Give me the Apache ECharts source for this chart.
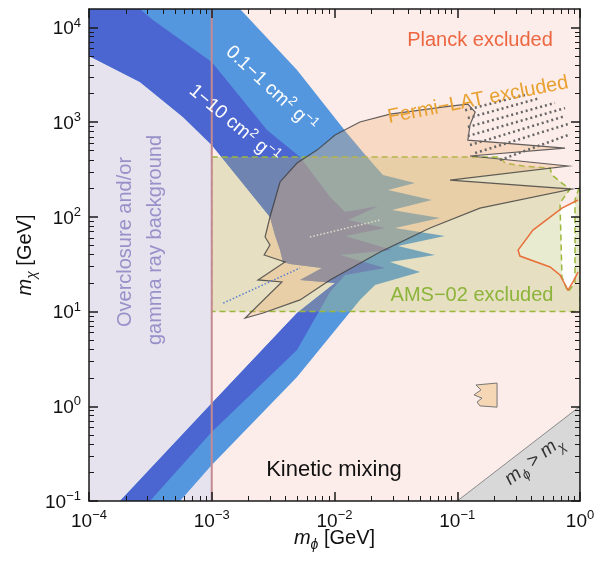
<!DOCTYPE html>
<html>
<head>
<meta charset="utf-8">
<script src="https://cdn.jsdelivr.net/npm/echarts@6/dist/echarts.min.js"></script>
<style>
  html, body { margin: 0; padding: 0; background: #fff; }
  #chart { width: 597px; height: 562px; }
</style>
</head>
<body>
<div id="chart"></div>
<script>
// axis ranges and tick values (m_phi, m_chi in GeV)
const xRange = [1e-4, 1];
const yRange = [0.1, 15700];
const xMajor = [1e-4, 1e-3, 1e-2, 1e-1, 1];
const yMajor = [0.1, 1, 10, 100, 1000, 10000];

// overclosure / gamma ray background: m_phi below 1 MeV
const overclosure = [[1e-4, 0.1], [1e-3, 0.1], [1e-3, 15700], [1e-4, 15700]];
const mevLine = [[1e-3, 0.1], [1e-3, 15700]];

// m_phi > m_chi
const heavyMediator = [[0.1, 0.1], [1, 1], [1, 0.1]];

// 0.1-1 cm^2/g band (outer envelope)
const band01 = [
  [1e-4, 15700], [1.70e-3, 15700], [4.95e-3, 3560], [1.26e-2, 769], [1.84e-2, 429],
  [2.48e-2, 277], [4.53e-2, 228], [2.73e-2, 192], [6.22e-2, 151], [2.94e-2, 118],
  [7.23e-2, 97.3], [3.11e-2, 76.4], [7.94e-2, 62.8], [3.29e-2, 49.3], [6.59e-2, 39.6],
  [2.83e-2, 33.4], [4.98e-2, 26.2], [2.14e-2, 19.1], [1.61e-2, 13.3], [1.34e-2, 9.9],
  [4.95e-3, 2.04], [1e-3, 0.240], [5.51e-4, 0.1], [1.79e-4, 0.1],
  [1e-3, 1.08], [4.95e-3, 9.67], [1.01e-2, 20.1], [5.24e-3, 21.6], [7.91e-3, 28.9],
  [4.34e-3, 31.8], [3.80e-3, 33.4], [3.60e-3, 44.7], [3.27e-3, 64.4], [2.98e-3, 99.8],
  [1.70e-3, 245], [1e-3, 574], [5.83e-4, 1135], [2.60e-4, 2660], [1e-4, 5000]
];

// 1-10 cm^2/g band
const band1 = [
  [1e-4, 15700], [2.60e-4, 15700], [3.32e-4, 12000], [1e-3, 4320], [2.82e-3, 827],
  [5.24e-3, 429], [9.19e-3, 162], [1.22e-2, 113], [2.26e-2, 130], [1.29e-2, 92.7],
  [2.58e-2, 76.4], [1.22e-2, 62.8], [2.94e-2, 44.7], [1.11e-2, 39.6], [2.58e-2, 28.9],
  [1.22e-2, 24.4], [9.19e-3, 16.1], [4.95e-3, 3.93], [1e-3, 0.536], [3.14e-4, 0.1],
  [1.79e-4, 0.1],
  [1e-3, 1.08], [4.95e-3, 9.67], [1.01e-2, 20.1], [5.24e-3, 21.6], [7.91e-3, 28.9],
  [4.34e-3, 31.8], [3.80e-3, 33.4], [3.60e-3, 44.7], [3.27e-3, 64.4], [2.98e-3, 99.8],
  [1.70e-3, 245], [1e-3, 574], [5.83e-4, 1135], [2.60e-4, 2660], [1e-4, 5000]
];

// AMS-02 excluded
const ams = [
  [1e-3, 429], [0.223, 429], [0.245, 371], [0.343, 345], [0.570, 328], [0.592, 277],
  [0.713, 228], [0.829, 197], [0.687, 140], [0.700, 57.0], [0.713, 23.2], [0.798, 16.1],
  [0.910, 20.1], [0.910, 57.0], [0.910, 151], [1, 217], [1, 10], [1e-3, 10]
];

// Fermi-LAT excluded
const fermi = [
  [7.20e-3, 508], [1.01e-2, 732], [1.61e-2, 1005], [2.83e-2, 1220], [4.98e-2, 1340],
  [8.73e-2, 1480], [0.122, 1556], [0.140, 1280], [0.127, 933], [0.122, 648],
  [0.755, 534], [0.127, 440], [0.798, 345], [8.73e-2, 245], [0.861, 197],
  [0.153, 124], [6.00e-2, 76.4], [2.35e-2, 42.6], [9.19e-3, 21.6], [5.24e-3, 13.3],
  [2.62e-3, 9.67], [1.87e-3, 8.55], [3.73e-3, 20.6], [2.38e-3, 21.6], [3.95e-3, 33.4],
  [2.67e-3, 39.6], [2.98e-3, 50.5], [2.72e-3, 61.4], [2.98e-3, 99.8], [3.60e-3, 234],
  [4.95e-3, 371]
];
const fermiIsland = [
  [0.142, 1.68], [0.211, 1.76], [0.211, 0.98], [0.153, 1.01], [0.145, 1.11],
  [0.159, 1.22], [0.137, 1.32], [0.156, 1.49]
];
// dotted resonance rows at the top of the Fermi region
const fermiRows = [
  [[0.116, 1340], [0.356, 1940]],
  [[0.122, 1107], [0.472, 1800]],
  [[0.122, 890], [0.625, 1600]],
  [[0.122, 715], [0.755, 1410]],
  [[0.127, 574], [0.755, 1160]],
  [[0.140, 473], [0.798, 957]],
  [[0.223, 399], [0.798, 732]]
];
// thin resonance lines inside the bands
const resonanceBlue = [[1.24e-3, 12.3], [5.24e-3, 28.9]];
const resonancePale = [[6.31e-3, 61.4], [2.35e-2, 92.7]];

// Planck allowed pocket
const planckEdge = [
  [1, 151], [0.964, 151], [0.713, 124], [0.414, 72.7], [0.313, 44.7], [0.324, 38.6],
  [0.570, 29.6], [0.687, 24.4], [0.798, 16.9], [0.877, 20.6], [0.964, 26.2], [1, 27.5]
];

const minor = m => m.slice(0, -1).flatMap(v => [2, 3, 4, 5, 6, 7, 8, 9].map(k => v * k));
const FONT = 'Liberation Sans, Arial, Helvetica, sans-serif';
const INK = '#1a1a1a';

function area(pts, style) {
  return {
    type: 'custom', silent: true, clip: true, data: [pts[0]],
    renderItem: function (params, api) {
      return { type: 'polygon', shape: { points: pts.map(p => api.coord(p)) }, style: style };
    }
  };
}
function path(pts, style) {
  return {
    type: 'custom', silent: true, clip: true, data: [pts[0]],
    renderItem: function (params, api) {
      return { type: 'polyline', shape: { points: pts.map(p => api.coord(p)) }, style: Object.assign({ fill: null }, style) };
    }
  };
}

const sup = {
  b: { fontSize: 19, fontFamily: FONT, color: '#111', verticalAlign: 'bottom' },
  s: { fontSize: 13, fontFamily: FONT, color: '#111', verticalAlign: 'bottom', padding: [0, 0, 9, 0] }
};
function powLabel(v) {
  const e = Math.round(Math.log10(v));
  return '{b|10}{s|' + String(e).replace('-', '\u2212') + '}';
}

// log axis that carries the data, the frame line and the labels
function dataAxis(dir, pos) {
  const range = dir === 'x' ? xRange : yRange;
  const vals = dir === 'x' ? xMajor : yMajor;
  return {
    type: 'log', logBase: 10, min: range[0], max: range[1], position: pos, z: 10,
    splitLine: { show: false }, minorTick: { show: false },
    axisLine: { show: true, onZero: false, lineStyle: { color: INK, width: 1.5 } },
    axisTick: { show: false },
    axisLabel: { show: true, customValues: vals, margin: 8, formatter: powLabel, rich: sup }
  };
}
// tick-only axis in log10 units, laid over the same grid
function tickAxis(dir, pos, major, line) {
  const range = (dir === 'x' ? xRange : yRange).map(Math.log10);
  const base = dir === 'x' ? xMajor : yMajor;
  const vals = (major ? base : minor(base)).map(Math.log10);
  return {
    type: 'value', min: range[0], max: range[1], position: pos, z: 10,
    splitLine: { show: false }, minorTick: { show: false },
    axisLine: { show: !!line, onZero: false, lineStyle: { color: INK, width: 1.5 } },
    axisTick: { show: true, inside: true, length: major ? 9 : 5, customValues: vals,
      lineStyle: { color: INK, width: major ? 1.5 : 1 } },
    axisLabel: { show: false }
  };
}

const nameRich = {
  i: { fontSize: 20, fontFamily: FONT, fontStyle: 'italic', color: '#111', verticalAlign: 'bottom', padding: [0, 0, 4, 0] },
  n: { fontSize: 20, fontFamily: FONT, color: '#111', verticalAlign: 'bottom', padding: [0, 0, 4, 0] },
  sub: { fontSize: 14, fontFamily: FONT, fontStyle: 'italic', color: '#111', verticalAlign: 'bottom' }
};

const xAxes = [dataAxis('x', 'bottom'), tickAxis('x', 'bottom', true), tickAxis('x', 'bottom', false),
  tickAxis('x', 'top', true, true), tickAxis('x', 'top', false)];
const yAxes = [dataAxis('y', 'left'), tickAxis('y', 'left', true), tickAxis('y', 'left', false),
  tickAxis('y', 'right', true, true), tickAxis('y', 'right', false)];
Object.assign(xAxes[0], { name: '{i|m}{sub|\u03d5}{n| [GeV]}', nameLocation: 'middle', nameGap: 27,
  nameMoveOverlap: false, nameTextStyle: { rich: nameRich } });
Object.assign(yAxes[0], { name: '{i|m}{sub|\u03c7}{n| [GeV]}', nameLocation: 'middle', nameGap: 50,
  nameMoveOverlap: false, nameTextStyle: { rich: nameRich } });

const labelRich = (size, color) => ({
  n: { fontSize: size, fontFamily: FONT, color: color, verticalAlign: 'bottom' },
  s: { fontSize: size * 0.68, fontFamily: FONT, color: color, verticalAlign: 'bottom', padding: [0, 0, size * 0.45, 0] },
  i: { fontSize: size, fontFamily: FONT, fontStyle: 'italic', color: color, verticalAlign: 'bottom', padding: [0, 0, 4, 0] },
  u: { fontSize: size * 0.7, fontFamily: FONT, fontStyle: 'italic', color: color, verticalAlign: 'bottom' },
  g: { fontSize: size, fontFamily: FONT, color: color, verticalAlign: 'bottom', padding: [0, 0, 4, 0] }
});
function label(x, y, deg, text, size, color) {
  return {
    type: 'text', x: x, y: y, rotation: deg * Math.PI / 180, silent: true, z: 100,
    style: { text: text, rich: labelRich(size, color), align: 'center', verticalAlign: 'middle', font: size + 'px ' + FONT, fill: color }
  };
}

const chart = echarts.init(document.getElementById('chart'));
chart.setOption({
  animation: false,
  backgroundColor: '#ffffff',
  grid: { left: 89, right: 17, top: 9, bottom: 61, show: true, backgroundColor: '#fcedea', borderWidth: 0, containLabel: false, outerBoundsMode: 'none' },
  xAxis: xAxes,
  yAxis: yAxes,
  series: [
    area(overclosure, { fill: '#e6e2ee' }),
    area(planckEdge, { fill: '#ffffff' }),
    area(heavyMediator, { fill: '#d8d8d8', stroke: '#8a8a8a', lineWidth: 1 }),
    area(band01, { fill: '#5597df' }),
    area(band1, { fill: '#4b66d1' }),
    area(ams, { fill: 'rgba(185,195,108,0.33)', stroke: '#9cb83a', lineWidth: 1.5, lineDash: [6, 4] }),
    area(fermi, { fill: 'rgba(235,175,115,0.32)', stroke: 'rgba(60,60,60,0.8)', lineWidth: 1.2 }),
    area(fermiIsland, { fill: '#f5d6b5', stroke: '#777', lineWidth: 1 }),
    ...fermiRows.map(r => path(r, { stroke: '#666', lineWidth: 2.5, lineDash: [2, 3] })),
    path(resonanceBlue, { stroke: '#5a7fd0', lineWidth: 1.5, lineDash: [1.5, 2] }),
    path(resonancePale, { stroke: '#e0dcc8', lineWidth: 1.5, lineDash: [1.5, 2] }),
    path(planckEdge.slice(1, -1), { stroke: '#e8703c', lineWidth: 1.5 }),
    path(mevLine, { stroke: '#c48a90', lineWidth: 2 })
  ],
  graphic: [
    label(480, 40, 0, '{n|Planck excluded}', 20, '#ec6640'),
    label(478, 100, 11, '{n|Fermi\u2212LAT excluded}', 20, '#e8a030'),
    label(472, 295, 0, '{n|AMS\u221202 excluded}', 20, '#8db43a'),
    label(334, 470, 0, '{n|Kinetic mixing}', 22, '#111'),
    label(125, 242, 90, '{n|Overclosure and/or}', 20, '#9891c9'),
    label(155, 240, 90, '{n|gamma ray background}', 20, '#9891c9'),
    label(272, 88, -43, '{n|0.1\u22121 cm}{s|2}{n| g}{s|\u22121}', 19, '#ffffff'),
    label(235, 123, -40, '{n|1\u221210 cm}{s|2}{n| g}{s|\u22121}', 19, '#ffffff'),
    label(535, 462, 38, '{i|m}{u|\u03d5}{g| > }{i|m}{u|\u03c7}', 19, '#333333')
  ]
});
</script>
</body>
</html>
